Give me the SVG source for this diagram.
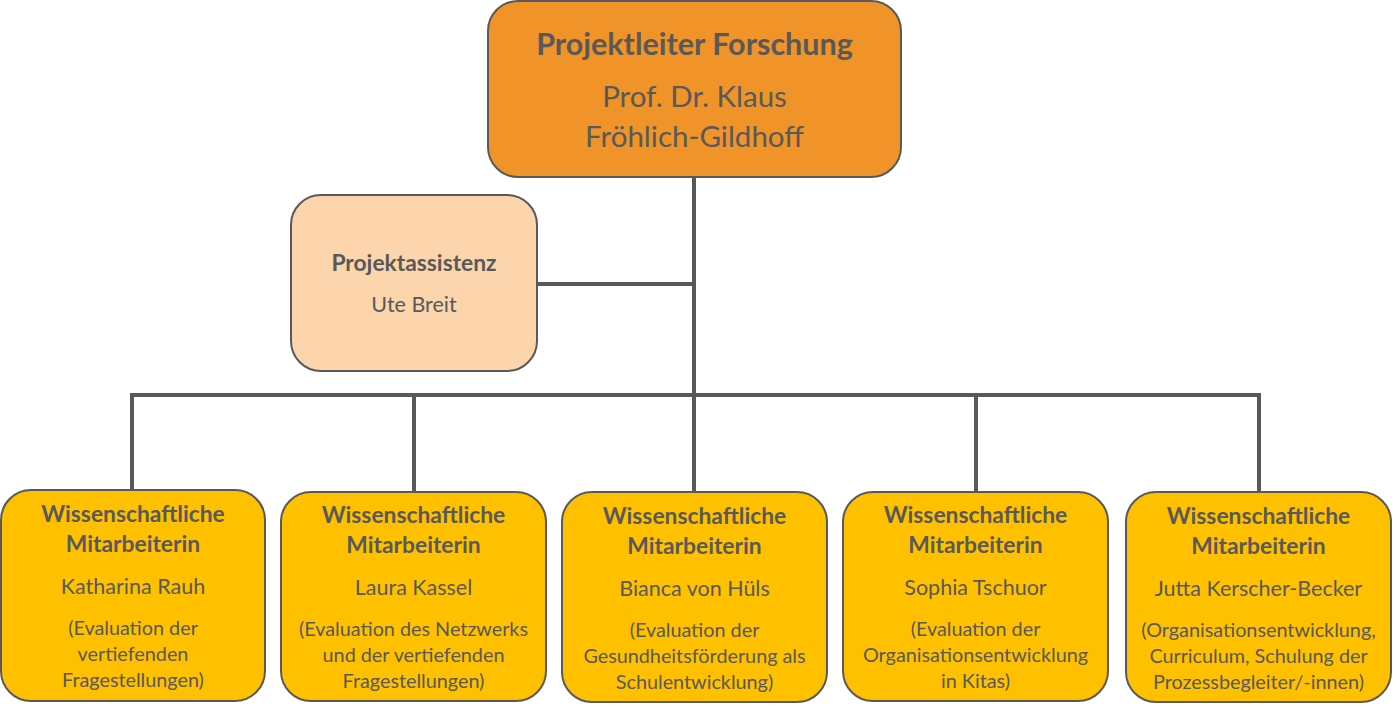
<svg xmlns="http://www.w3.org/2000/svg" width="1397" height="708" viewBox="0 0 1397 708">
<style>
.box{stroke:#595959;stroke-width:2}
.lead{fill:#F09328}
.asst{fill:#FCD5AC}
.staff{fill:#FFC000}
text{font-family:Lato,"Liberation Sans",sans-serif;fill:#595959;text-anchor:middle}
.b{font-weight:bold}
.h1{font-size:30.5px}
.n1{font-size:29.5px}
.h2{font-size:22.8px}
.n2{font-size:21.5px}
.d{font-size:19.8px}
.conn{stroke:#595959;stroke-width:4;fill:none}
</style>
<rect width="1397" height="708" fill="#fff"/>
<g id="connectors" class="conn">
<path d="M694 177V397"/>
<path d="M537 284H694"/>
<path d="M130 395H1261"/>
<path d="M132 393V490M414 395V492M694 395V492M976 395V492M1259 393V492"/>
</g>
<g id="lead">
<rect class="box lead" x="488" y="1" width="413" height="176" rx="30"/>
<text class="b h1" x="694.5" y="55">Projektleiter Forschung</text>
<text class="n1" x="694.5" y="107">Prof. Dr. Klaus</text>
<text class="n1" x="694.5" y="147">Fröhlich-Gildhoff</text>
</g>
<g id="assistant">
<rect class="box asst" x="291" y="195" width="246" height="176" rx="30"/>
<text class="b h2" x="414" y="271">Projektassistenz</text>
<text class="n2" x="414" y="312">Ute Breit</text>
</g>
<g id="staff1">
<rect class="box staff" x="1" y="490" width="264" height="211" rx="30"/>
<text class="b h2" x="133" y="522">Wissenschaftliche</text>
<text class="b h2" x="133" y="552">Mitarbeiterin</text>
<text class="n2" x="133" y="594">Katharina Rauh</text>
<text class="d" x="133" y="635">(Evaluation der</text>
<text class="d" x="133" y="661">vertiefenden</text>
<text class="d" x="133" y="687">Fragestellungen)</text>
</g>
<g id="staff2">
<rect class="box staff" x="281" y="492" width="265" height="209" rx="30"/>
<text class="b h2" x="413.5" y="523">Wissenschaftliche</text>
<text class="b h2" x="413.5" y="553">Mitarbeiterin</text>
<text class="n2" x="413.5" y="595">Laura Kassel</text>
<text class="d" x="413.5" y="636">(Evaluation des Netzwerks</text>
<text class="d" x="413.5" y="662">und der vertiefenden</text>
<text class="d" x="413.5" y="688">Fragestellungen)</text>
</g>
<g id="staff3">
<rect class="box staff" x="562" y="492" width="265" height="210" rx="30"/>
<text class="b h2" x="694.5" y="524">Wissenschaftliche</text>
<text class="b h2" x="694.5" y="554">Mitarbeiterin</text>
<text class="n2" x="694.5" y="596">Bianca von Hüls</text>
<text class="d" x="694.5" y="637">(Evaluation der</text>
<text class="d" x="694.5" y="663">Gesundheitsförderung als</text>
<text class="d" x="694.5" y="689">Schulentwicklung)</text>
</g>
<g id="staff4">
<rect class="box staff" x="843" y="492" width="265" height="209" rx="30"/>
<text class="b h2" x="975.5" y="523">Wissenschaftliche</text>
<text class="b h2" x="975.5" y="553">Mitarbeiterin</text>
<text class="n2" x="975.5" y="595">Sophia Tschuor</text>
<text class="d" x="975.5" y="636">(Evaluation der</text>
<text class="d" x="975.5" y="662">Organisationsentwicklung</text>
<text class="d" x="975.5" y="688">in Kitas)</text>
</g>
<g id="staff5">
<rect class="box staff" x="1126" y="492" width="265" height="210" rx="30"/>
<text class="b h2" x="1258.5" y="524">Wissenschaftliche</text>
<text class="b h2" x="1258.5" y="554">Mitarbeiterin</text>
<text class="n2" x="1258.5" y="596">Jutta Kerscher-Becker</text>
<text class="d" x="1258.5" y="637">(Organisationsentwicklung,</text>
<text class="d" x="1258.5" y="663">Curriculum, Schulung der</text>
<text class="d" x="1258.5" y="689">Prozessbegleiter/-innen)</text>
</g>
</svg>
